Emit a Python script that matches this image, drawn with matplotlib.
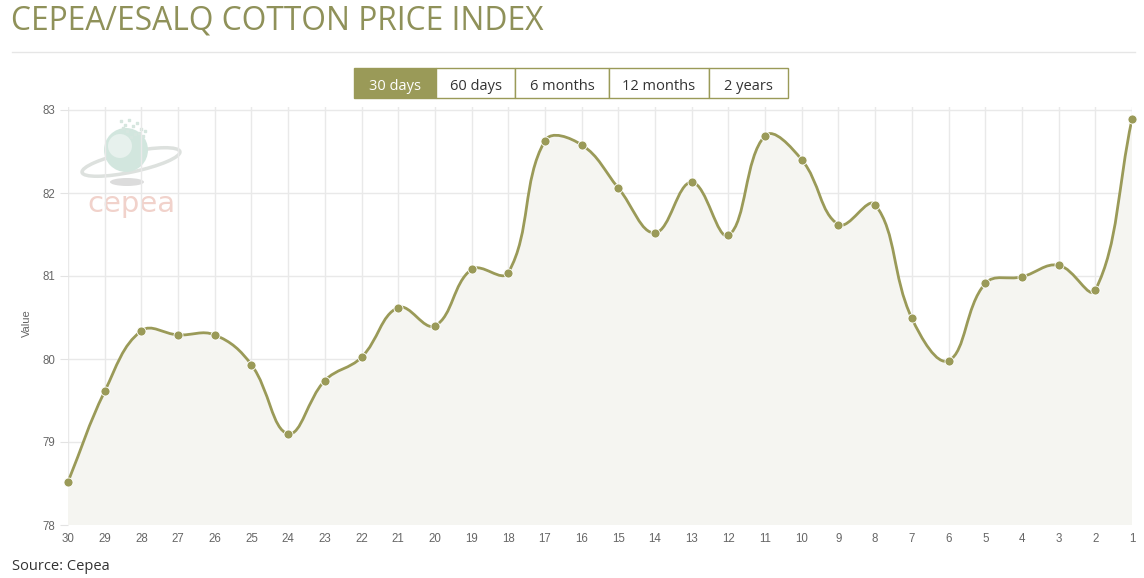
import matplotlib
matplotlib.use("Agg")
import matplotlib.pyplot as plt
from matplotlib.path import Path
from matplotlib.patches import PathPatch, Rectangle, Ellipse, Circle
import numpy as np

# CEPEA/ESALQ cotton index, last 30 days
days = ["30", "29", "28", "27", "26", "25", "24", "23", "22", "21",
        "20", "19", "18", "17", "16", "15", "14", "13", "12", "11",
        "10", "9", "8", "7", "6", "5", "4", "3", "2", "1"]
values = [78.52, 79.61, 80.34, 80.29, 80.29, 79.93, 79.10, 79.74, 80.02, 80.62,
          80.40, 81.08, 81.04, 82.63, 82.58, 82.06, 81.52, 82.13, 81.49, 82.69,
          82.40, 81.62, 81.86, 80.49, 79.98, 80.91, 80.99, 81.13, 80.83, 82.89]
y_ticks = [78, 79, 80, 81, 82, 83]
buttons = ["30 days", "60 days", "6 months", "12 months", "2 years"]

OLIVE = "#9a9a58"
TITLE_C = "#8f9159"
W, H = 1144, 578


def bezier_path(ax, xs, ys, tension=0.4):
    # chart.js style spline, control points worked out in pixel space
    pts = ax.transData.transform(np.column_stack([xs, ys]))
    ymin_px, ymax_px = sorted(ax.transData.transform([(0, ax.get_ylim()[0]), (0, ax.get_ylim()[1])])[:, 1])
    n = len(pts)
    cin, cout = [], []
    for i in range(n):
        cur = pts[i]
        prv = pts[i - 1] if i > 0 else cur
        nxt = pts[i + 1] if i < n - 1 else cur
        d01 = np.hypot(*(cur - prv))
        d12 = np.hypot(*(nxt - cur))
        s01 = d01 / (d01 + d12)
        s12 = d12 / (d01 + d12)
        a = cur - tension * s01 * (nxt - prv)
        b = cur + tension * s12 * (nxt - prv)
        a[1] = min(max(a[1], ymin_px), ymax_px)
        b[1] = min(max(b[1], ymin_px), ymax_px)
        cin.append(a)
        cout.append(b)
    verts = [pts[0]]
    codes = [Path.MOVETO]
    for i in range(1, n):
        verts += [cout[i - 1], cin[i], pts[i]]
        codes += [Path.CURVE4] * 3
    verts = ax.transData.inverted().transform(np.array(verts))
    return [tuple(v) for v in verts], codes


fig = plt.figure(figsize=(W / 100, H / 100), dpi=100)

# page overlay in pixel coords
page = fig.add_axes([0, 0, 1, 1])
page.set_xlim(0, W)
page.set_ylim(H, 0)
page.axis("off")

page.text(11, 21, "CEPEA/ESALQ COTTON PRICE INDEX", fontsize=22.9, color=TITLE_C,
          family="Open Sans", va="center", ha="left")
page.plot([12, 1135], [52, 52], color="#e6e6e6", lw=1)

edges = [354, 436, 515, 609, 709, 788]
for i, lab in enumerate(buttons):
    x0, x1 = edges[i], edges[i + 1]
    active = i == 0
    page.add_patch(Rectangle((x0, 68), x1 - x0, 30, facecolor=OLIVE if active else "white",
                             edgecolor=OLIVE, lw=1))
    page.text((x0 + x1) / 2, 84, lab, ha="center", va="center_baseline", fontsize=10.5,
              family="Open Sans", color="white" if active else "#333333")

page.text(12, 566, "Source: Cepea", fontsize=10.5, family="Open Sans", color="#333333",
          va="center", ha="left")
page.text(27, 323, "Value", rotation=90, fontsize=8, color="#666666",
          family="Liberation Sans", ha="center", va="center")

# faint cepea logo
page.add_patch(Ellipse((131, 162), 100, 20, angle=-12, facecolor="none",
                       edgecolor="#dde1de", lw=2.5, zorder=1))
page.add_patch(Circle((126, 150), 22, facecolor="#d2e6de", edgecolor="none", zorder=2))
page.add_patch(Circle((120, 146), 12, facecolor="#e7f1ed", edgecolor="none", zorder=2))
dots_x = [121, 125, 129, 133, 137, 141, 127, 135, 131, 139, 123, 143, 145]
dots_y = [121, 125, 120, 126, 123, 129, 131, 134, 137, 133, 128, 136, 131]
page.scatter(dots_x, dots_y, s=2, marker="s", color="#d6e6df", zorder=2)
page.add_patch(Ellipse((127, 182), 34, 8, facecolor="#dcdcdc", edgecolor="none", zorder=1))
page.text(131, 204, "cepea", fontsize=21, color="#f1d2cb", ha="center", va="center",
          family="DejaVu Sans", zorder=2)

# chart area
top_px, bot_px, left_px, right_px = 107, 525, 68, 1132
ax = fig.add_axes([left_px / W, 1 - bot_px / H, (right_px - left_px) / W, (bot_px - top_px) / H])
ax.patch.set_alpha(0)
x = np.arange(len(values))
ax.set_xlim(0, len(values) - 1)
ax.set_ylim(78, 78 + (bot_px - top_px) / 83.0)

verts, codes = bezier_path(ax, x, values)
fill_verts = verts + [(x[-1], 78), (x[0], 78), verts[0]]
fill_codes = codes + [Path.LINETO, Path.LINETO, Path.CLOSEPOLY]
ax.add_patch(PathPatch(Path(fill_verts, fill_codes), facecolor="#f5f5f1", edgecolor="none", zorder=1))
ax.add_patch(PathPatch(Path(verts, codes), facecolor="none", edgecolor=OLIVE, lw=2, zorder=3))
ax.plot(x, values, "o", color=OLIVE, ms=6.5, mec="white", mew=0.6, zorder=4, clip_on=False)

ax.set_yticks(y_ticks)
ax.set_xticks(x)
ax.set_xticklabels(days)
ax.grid(True, color="#e9e9e9", lw=1, zorder=0)
ax.set_axisbelow(True)
for s in ax.spines.values():
    s.set_visible(False)
ax.tick_params(axis="y", length=6, color="#e3e3e3", labelsize=8.3, labelcolor="#666666", pad=3)
ax.tick_params(axis="x", length=0, labelsize=8.3, labelcolor="#666666", pad=6)
for lab in ax.get_xticklabels() + ax.get_yticklabels():
    lab.set_family("Liberation Sans")

fig.savefig("out.png", dpi=100)
